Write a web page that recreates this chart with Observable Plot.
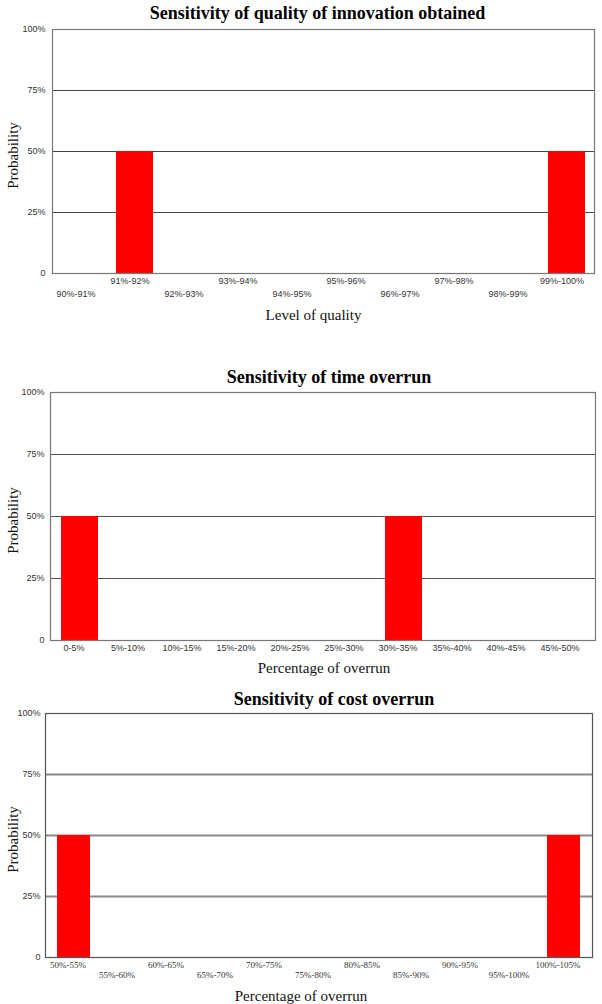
<!DOCTYPE html>
<html><head><meta charset="utf-8">
<script src="https://cdn.jsdelivr.net/npm/d3@7"></script>
<script src="https://cdn.jsdelivr.net/npm/@observablehq/plot@0.6"></script>
<style>
body{margin:0;background:#fff;}
#root{position:relative;width:602px;height:1004px;overflow:hidden;background:#fff;}
.chart{position:absolute;left:0;}
</style></head><body><div id="root"></div>
<script>
// ---- data ----
const qualityCategories = ["90%-91%","91%-92%","92%-93%","93%-94%","94%-95%","95%-96%","96%-97%","97%-98%","98%-99%","99%-100%"];
const qualityProbability = [0, 0.5, 0, 0, 0, 0, 0, 0, 0, 0.5];

const timeCategories = ["0-5%","5%-10%","10%-15%","15%-20%","20%-25%","25%-30%","30%-35%","35%-40%","40%-45%","45%-50%"];
const timeProbability = [0.5, 0, 0, 0, 0, 0, 0.5, 0, 0, 0];

const costCategories = ["50%-55%","55%-60%","60%-65%","65%-70%","70%-75%","75%-80%","80%-85%","85%-90%","90%-95%","95%-100%","100%-105%"];
const costProbability = [0.5, 0, 0, 0, 0, 0, 0, 0, 0, 0, 0.5];

const yTicks = [0, 0.25, 0.5, 0.75, 1];
const gridValues = [0.25, 0.5, 0.75];
const titles = ["Sensitivity of quality of innovation obtained", "Sensitivity of time overrun", "Sensitivity of cost overrun"];
const xLabels = ["Level of quality", "Percentage of overrun", "Percentage of overrun"];
const yLabel = "Probability";

const SANS = "'Liberation Sans', Arial, sans-serif";
const SERIF = "'Liberation Serif', 'Times New Roman', serif";
const fmtY = d => d === 0 ? "0" : `${Math.round(d * 100)}%`;

function makeChart(cfg) {
  const data = cfg.categories.map((c, i) => ({category: c, p: cfg.values[i]}));
  const rowA = cfg.stagger === "none" ? cfg.categories
    : cfg.categories.filter((d, i) => i % 2 === (cfg.stagger === "oddUp" ? 1 : 0));
  const rowB = cfg.stagger === "none" ? []
    : cfg.categories.filter((d, i) => i % 2 === (cfg.stagger === "oddUp" ? 0 : 1));
  const marks = [
    Plot.ruleY(gridValues, {stroke: cfg.gridColor, strokeWidth: cfg.gridWidth}),
    Plot.barY(data, {x: "category", y: "p", fill: "#ff0000"}),
    Plot.frame({stroke: cfg.frameColor, strokeWidth: 1.2}),
    Plot.axisY({ticks: yTicks, tickFormat: fmtY, tickSize: 0, tickPadding: cfg.yPad, fontSize: 9, fontFamily: SANS, label: null}),
    Plot.axisX({ticks: rowA, tickSize: 0, tickPadding: cfg.padA, fontSize: 9, fontFamily: cfg.xFont, dx: cfg.xdx, label: null}),
    Plot.text([cfg.title], {text: d => d, frameAnchor: "top", lineAnchor: "middle", textAnchor: "middle", dy: cfg.titleDy, dx: cfg.titleDx, fontSize: 18, fontWeight: "bold", fontFamily: SERIF, fill: "#000"}),
    Plot.text([cfg.xLabel], {text: d => d, frameAnchor: "bottom", lineAnchor: "middle", textAnchor: "middle", dy: cfg.xLabelDy, dx: cfg.xLabelDx, fontSize: 15, fontFamily: SERIF, fill: "#111"}),
    Plot.text([yLabel], {text: d => d, frameAnchor: "left", lineAnchor: "middle", textAnchor: "middle", dx: 13 - cfg.margin[3], dy: 4, rotate: -90, fontSize: 15, fontFamily: SERIF, fill: "#111"})
  ];
  if (rowB.length) marks.push(Plot.axisX({ticks: rowB, tickSize: 0, tickPadding: cfg.padB, fontSize: 9, fontFamily: cfg.xFont, dx: cfg.xdx, label: null}));
  const svg = Plot.plot({
    width: 602,
    height: cfg.height,
    marginTop: cfg.margin[0], marginRight: cfg.margin[1], marginBottom: cfg.margin[2], marginLeft: cfg.margin[3],
    style: {color: "#333", background: "transparent", overflow: "visible"},
    x: {domain: cfg.categories, paddingInner: 0.32, paddingOuter: 0.16},
    y: {domain: [0, 1]},
    marks
  });
  svg.classList.add("chart");
  svg.style.top = cfg.top + "px";
  document.getElementById("root").appendChild(svg);
}

makeChart({
  categories: qualityCategories, values: qualityProbability,
  title: titles[0], xLabel: xLabels[0],
  top: 0, height: 330, margin: [29, 8, 57, 52],
  stagger: "oddUp", padA: 4, padB: 17, xdx: -5, xFont: SANS, yPad: 7,
  titleDy: -16, titleDx: -6, xLabelDy: 42, xLabelDx: -10,
  gridColor: "#444", gridWidth: 1.2, frameColor: "#777"
});

makeChart({
  categories: timeCategories, values: timeProbability,
  title: titles[1], xLabel: xLabels[1],
  top: 360, height: 320, margin: [32, 7, 40, 50],
  stagger: "none", padA: 4, padB: 0, xdx: -6, xFont: SANS, yPad: 6,
  titleDy: -15, titleDx: 6, xLabelDy: 28, xLabelDx: 1,
  gridColor: "#555", gridWidth: 1.2, frameColor: "#777"
});

makeChart({
  categories: costCategories, values: costProbability,
  title: titles[2], xLabel: xLabels[2],
  top: 680, height: 324, margin: [33, 10, 47, 45],
  stagger: "evenUp", padA: 4, padB: 14, xdx: -6, xFont: SERIF, yPad: 5,
  titleDy: -14, titleDx: 15, xLabelDy: 39, xLabelDx: -18,
  gridColor: "#888", gridWidth: 1.8, frameColor: "#555"
});
</script>
</body></html>
